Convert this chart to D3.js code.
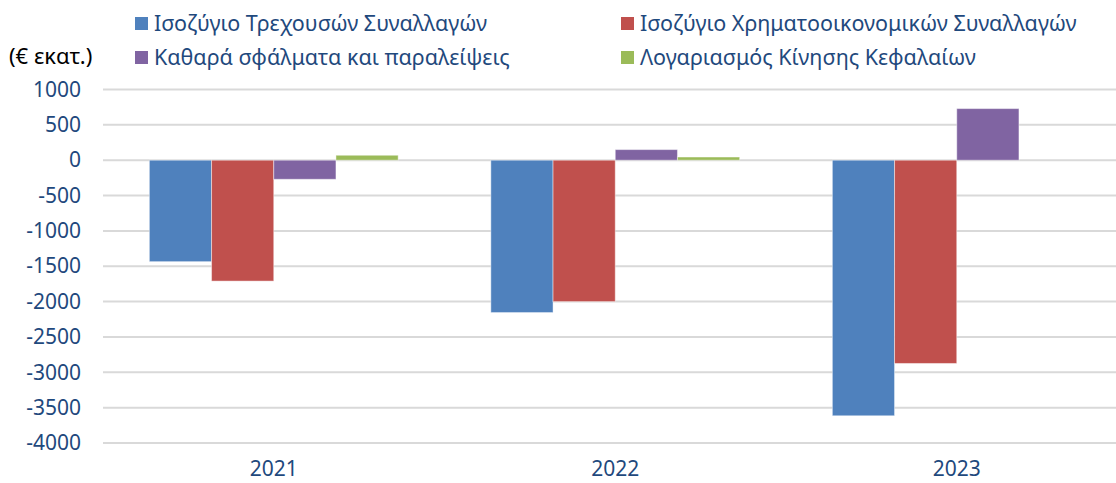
<!DOCTYPE html>
<html>
  <head>
    <meta charset="utf-8">
    <title>Ισοζύγιο πληρωμών</title>
    <script src="https://d3js.org/d3.v7.min.js"></script>
    <style>
      body { margin: 0; background: #fff; }
      text { font-family: "Noto Sans", "Open Sans", sans-serif; }
      .grid line { stroke: #d9d9d9; stroke-width: 2px; }
    </style>
  </head>
  <body>
    <script>

      var width = 1116;
      var height = 483;

      var years = ["2021", "2022", "2023"];
      var seriesNames = [
        "Ισοζύγιο Τρεχουσών Συναλλαγών",
        "Ισοζύγιο Χρηματοοικονομικών Συναλλαγών",
        "Καθαρά σφάλματα και παραλείψεις",
        "Λογαριασμός Κίνησης Κεφαλαίων"
      ];
      var currentAccount   = [-1435, -2155, -3615];
      var financialAccount = [-1710, -2000, -2875];
      var errorsOmissions  = [-270, 150, 730];
      var capitalAccount   = [70, 45, 0];
      var yTicks = [1000, 500, 0, -500, -1000, -1500, -2000, -2500, -3000, -3500, -4000];

      var colors = ["#4f81bd", "#c0504d", "#8064a2", "#9bbb59"];
      var textColor = "#1f497d";

      // one row per year, values in series order
      var allSeries = [currentAccount, financialAccount, errorsOmissions, capitalAccount];
      var rows = years.map(function (y, i) {
        return { year: y, values: allSeries.map(function (s) { return s[i]; }) };
      });

      var svg = d3.select("body").append("svg")
        .attr("width", width)
        .attr("height", height);

      var x0 = d3.scaleBand().domain(years).range([103, 1127.5]).paddingInner(0).paddingOuter(0);
      var x1 = d3.scaleBand().domain(d3.range(4)).range([0, x0.bandwidth()]).paddingInner(0).paddingOuter(0.745);
      var y = d3.scaleLinear().domain([-4000, 1000]).range([443, 89.5]);

      // gridlines
      svg.append("g").attr("class", "grid")
        .selectAll("line").data(yTicks).enter().append("line")
        .attr("x1", 103).attr("x2", width)
        .attr("y1", function (d) { return y(d); })
        .attr("y2", function (d) { return y(d); });

      // y axis labels (plain hyphen, no thousands separator)
      var yAxis = d3.axisLeft(y).tickValues(yTicks).tickSize(0).tickPadding(0)
        .tickFormat(function (d) { return String(d); });
      var gy = svg.append("g").attr("transform", "translate(81,0)").call(yAxis);
      gy.select(".domain").remove();
      gy.selectAll("text")
        .attr("fill", textColor)
        .style("font-size", "21px");

      // x axis labels
      var xAxis = d3.axisBottom(x0).tickSize(0).tickPadding(0);
      var gx = svg.append("g").attr("transform", "translate(0,469)").call(xAxis);
      gx.select(".domain").remove();
      gx.selectAll("text")
        .attr("fill", textColor)
        .attr("dy", "0.35em")
        .style("font-size", "21px");

      // bars
      var groups = svg.append("g").selectAll("g").data(rows).enter().append("g")
        .attr("transform", function (d) { return "translate(" + x0(d.year) + ",0)"; });

      groups.selectAll("rect")
        .data(function (d) { return d.values.map(function (v, i) { return { i: i, v: v }; }); })
        .enter().append("rect")
        .attr("x", function (d) { return x1(d.i); })
        .attr("width", x1.bandwidth())
        .attr("y", function (d) { return y(Math.max(0, d.v)); })
        .attr("height", function (d) { return Math.abs(y(d.v) - y(0)); })
        .attr("fill", function (d) { return colors[d.i]; })
        .attr("stroke", "rgba(255,255,255,0.45)")
        .attr("stroke-width", 1);

      // unit label
      svg.append("text")
        .attr("x", 9).attr("y", 64)
        .attr("fill", "#000")
        .style("font-size", "22px")
        .text("(€ εκατ.)");

      // legend, two columns by two rows
      var legendPos = [[135, 23], [621, 23], [135, 57], [621, 57]];
      var legend = svg.append("g").selectAll("g").data(seriesNames).enter().append("g")
        .attr("transform", function (d, i) { return "translate(" + legendPos[i][0] + "," + legendPos[i][1] + ")"; });
      legend.append("rect")
        .attr("x", 0).attr("y", -6).attr("width", 13).attr("height", 13)
        .attr("fill", function (d, i) { return colors[i]; });
      legend.append("text")
        .attr("x", 19).attr("y", 0).attr("dy", "0.35em")
        .attr("fill", textColor)
        .style("font-size", "21.5px")
        .text(function (d) { return d; });

    </script>
  </body>
</html>
